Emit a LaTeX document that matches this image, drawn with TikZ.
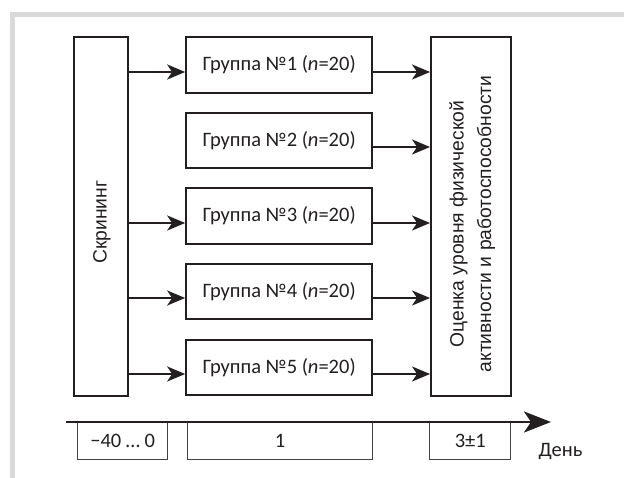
\documentclass[tikz,border=0pt]{standalone}
\usepackage{fontspec}
\setmainfont{Carlito}
\newfontfamily\arialfont{Liberation Sans}
\usetikzlibrary{arrows.meta}
\definecolor{ink}{HTML}{231F20}
\definecolor{framegray}{HTML}{D9D9D9}
\tikzset{
  mainbox/.style={draw=ink, line width=1.8pt, inner sep=0pt, font=\fontsize{20.5}{27.5}\selectfont, text=ink},
  tlbox/.style={draw=ink!85, line width=1pt, inner sep=0pt, font=\fontsize{20.5}{27.5}\selectfont, text=ink},
  lbl/.style={inner sep=0pt, font=\fontsize{20.5}{27.5}\selectfont, text=ink},
  rotlbl/.style={inner sep=0pt, font=\arialfont\fontsize{19.3}{27.7}\selectfont, text=ink, rotate=90, align=center},
  arr/.style={draw=ink, line width=2pt, -{Stealth[length=18pt, width=15pt, inset=5pt]}},
  tlarr/.style={draw=ink, line width=2.8pt, -{Stealth[length=27pt, width=21pt, inset=7pt]}},
}
\begin{document}
\begin{tikzpicture}[x=1pt, y=-1pt]
\useasboundingbox (0,0) rectangle (624,478);
% frame
\fill[framegray] (10,11.7) rectangle (624,16.7);
\fill[framegray] (10,11.7) rectangle (15,478);
% screening
\node[mainbox, minimum width=54.3pt, minimum height=358.4pt] (scr) at (101.2,216.5) {};
\node[rotlbl] (scrlbl) at (102,222.2) {Скрининг};
% evaluation
\node[mainbox, minimum width=79.7pt, minimum height=358.4pt] (eval) at (470.8,216.5) {};
\node[rotlbl] (evallbl) at (472.2,224) {Оценка уровня физической\\активности и работоспособности};
% groups
\foreach \i/\yc in {1/65, 2/140.5, 3/216, 4/291.5, 5/367.5} {
  \node[mainbox, minimum width=186.3pt, minimum height=55.5pt] (g\i) at (279.2,\yc) {Группа №\i{} (\textit{n}=20)};
}
% arrows
\foreach \i/\s in {1/-7pt, 3/-7pt, 4/-6.5pt, 5/-6.5pt} {
  \draw[arr] ([yshift=\s]g\i.west -| scr.east) -- ([yshift=\s]g\i.west);
}
\foreach \i/\s in {1/-7pt, 2/-6.5pt, 3/-7pt, 4/-6.5pt, 5/-6.5pt} {
  \draw[arr] ([yshift=\s]g\i.east) -- ([yshift=\s]g\i.east -| eval.west);
}
% timeline
\coordinate (tl0) at (66,422);
\coordinate (tl1) at (551,422);
\node[tlbox, minimum width=90pt, minimum height=37.6pt] (t1) at (122.7,440.5) {−40 … 0};
\node[tlbox, minimum width=184.6pt, minimum height=37.6pt] (t2) at (280,440.5) {1};
\node[tlbox, minimum width=80.7pt, minimum height=37.6pt] (t3) at (470.3,440.5) {3±1};
\draw[tlarr] (tl0) -- (tl1);
\node[lbl, anchor=base] (day) at (560.5,456.7) {День};
\end{tikzpicture}
\end{document}
